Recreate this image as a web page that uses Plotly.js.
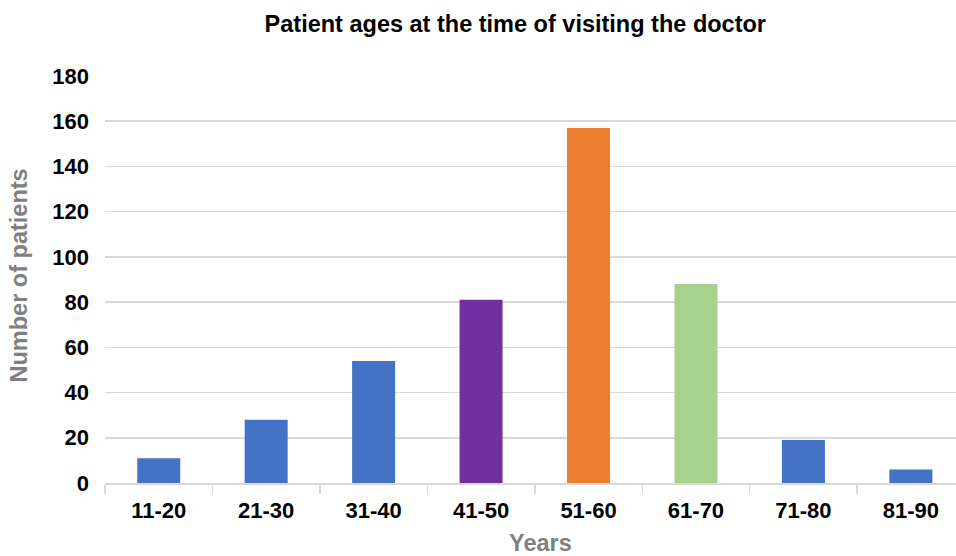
<!DOCTYPE html>
<html>
<head>
<meta charset="utf-8">
<script src="https://cdn.plot.ly/plotly-3.0.1.min.js"></script>
<style>html,body{margin:0;padding:0;background:#fff;}#chart{width:956px;height:556px;}</style>
</head>
<body>
<div id="chart"></div>
<script>
const categories = ["11-20", "21-30", "31-40", "41-50", "51-60", "61-70", "71-80", "81-90"];
const patients = [11, 28, 54, 81, 157, 88, 19, 6];
const yTicks = [0, 20, 40, 60, 80, 100, 120, 140, 160, 180];

const barColors = ["#4472C4", "#4472C4", "#4472C4", "#7030A0", "#ED7D31", "#A9D18E", "#4472C4", "#4472C4"];
const FONT = "Liberation Sans, Arial, sans-serif";

const trace = {
  type: "bar",
  x: categories,
  y: patients,
  marker: { color: barColors, line: { width: 0 } },
  hoverinfo: "x+y"
};

const layout = {
  width: 956,
  height: 556,
  margin: { l: 105, r: 0, t: 76, b: 73, pad: 0 },
  paper_bgcolor: "#ffffff",
  plot_bgcolor: "#ffffff",
  bargap: 0.6,
  showlegend: false,
  font: { family: FONT, color: "#000000" },
  title: {
    text: "<b>Patient ages at the time of visiting the doctor</b>",
    font: { family: FONT, size: 23.5, color: "#000000" },
    x: 0.539, xanchor: "center", xref: "container",
    y: 0.958, yanchor: "middle", yref: "container"
  },
  xaxis: {
    type: "category",
    range: [-0.5, 7.42],
    tickson: "boundaries",
    ticks: "outside",
    ticklen: 9,
    tickcolor: "#d9d9d9",
    tickwidth: 1.5,
    showgrid: false,
    showline: true,
    linecolor: "#d9d9d9",
    linewidth: 1.5,
    tickfont: { family: FONT, size: 22, color: "#000000", weight: "bold" },
    ticklabelstandoff: 7,
    fixedrange: true
  },
  yaxis: {
    range: [0, 180],
    tickvals: yTicks,
    ticktext: yTicks.map(String),
    showgrid: true,
    gridcolor: "#d9d9d9",
    gridwidth: 1.5,
    zeroline: false,
    showline: false,
    ticks: "",
    tickfont: { family: FONT, size: 22, color: "#000000", weight: "bold" },
    ticklabelstandoff: 15,
    fixedrange: true
  },
  annotations: [
    {
      text: "<b>Years</b>",
      font: { family: FONT, size: 23.5, color: "#808080" },
      xref: "paper", yref: "paper",
      x: 0.512, y: -0.147,
      xanchor: "center", yanchor: "middle",
      showarrow: false
    },
    {
      text: "<b>Number of patients</b>",
      font: { family: FONT, size: 23.5, color: "#808080" },
      xref: "paper", yref: "paper",
      x: -0.101, y: 0.51,
      xanchor: "center", yanchor: "middle",
      textangle: -90,
      showarrow: false
    }
  ]
};

Plotly.newPlot("chart", [trace], layout, { displayModeBar: false, staticPlot: true });
</script>
</body>
</html>
